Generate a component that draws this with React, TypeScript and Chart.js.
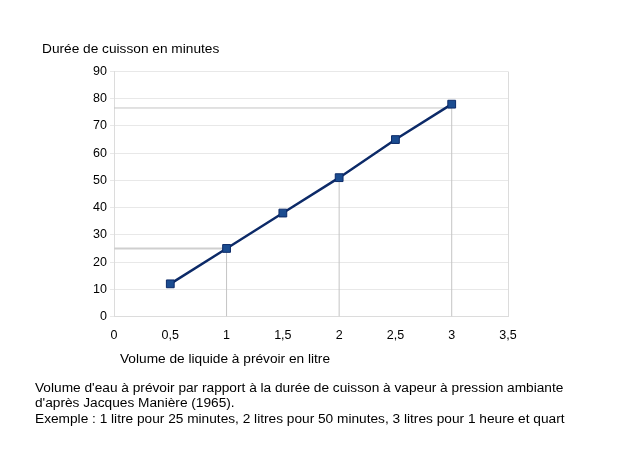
import React, { useEffect, useRef } from "react";
import { Chart, registerables } from "chart.js";

Chart.register(...registerables);

const volumes = [0.5, 1, 1.5, 2, 2.5, 3];
const durations = [12, 25, 38, 51, 65, 78];
const refVolumes = [1, 2, 3];
const refDurations = [25, 51, 78];
const guideQuarter = 76.6;
const yTitle = "Durée de cuisson en minutes";
const xTitle = "Volume de liquide à prévoir en litre";
const captionLines = [
  "Volume d'eau à prévoir par rapport à la durée de cuisson à vapeur à pression ambiante",
  "d'après Jacques Manière (1965).",
  "Exemple : 1 litre pour 25 minutes, 2 litres pour 50 minutes, 3 litres pour 1 heure et quart",
];

const FONT = "'Liberation Sans', Arial, sans-serif";

const textPlugin = {
  id: "texts",
  afterDraw(chart: any) {
    const ctx = chart.ctx;
    ctx.save();
    ctx.fillStyle = "#000";
    ctx.textBaseline = "middle";
    ctx.textAlign = "left";
    ctx.font = `13.7px ${FONT}`;
    ctx.fillText(yTitle, 42, 49);
    ctx.fillText(xTitle, 120, 359);
    const ys = [388, 403, 419];
    captionLines.forEach((l, i) => ctx.fillText(l, 35, ys[i]));
    ctx.restore();
  },
};

export default function App() {
  const ref = useRef<HTMLCanvasElement>(null);
  useEffect(() => {
    if (!ref.current) return;
    const guideColor = "#c4c4c4";
    const datasets: any[] = [
      {
        data: volumes.map((v, i) => ({ x: v, y: durations[i] })),
        borderColor: "#0c2a68",
        borderWidth: 2.5,
        pointStyle: "rect",
        pointRadius: 5.5,
        pointBackgroundColor: "#1b4c90",
        pointBorderColor: "#0c2a68",
        pointBorderWidth: 1,
        tension: 0,
      },
      {
        data: [
          { x: 0, y: refDurations[0] },
          { x: refVolumes[0], y: refDurations[0] },
        ],
        borderColor: "#cfcfcf",
        borderWidth: 2,
        pointRadius: 0,
      },
      {
        data: [
          { x: 0, y: guideQuarter },
          { x: refVolumes[2], y: guideQuarter },
        ],
        borderColor: guideColor,
        borderWidth: 1,
        pointRadius: 0,
      },
      ...refVolumes.map((v, i) => ({
        data: [
          { x: v, y: 0 },
          { x: v, y: refDurations[i] },
        ],
        borderColor: guideColor,
        borderWidth: 1,
        pointRadius: 0,
      })),
    ];
    const chart = new Chart(ref.current, {
      type: "line",
      data: { datasets },
      plugins: [textPlugin],
      options: {
        animation: false,
        responsive: false,
        events: [],
        layout: { padding: { left: 74, top: 71.5, right: 136, bottom: 98.5 } },
        plugins: { legend: { display: false }, tooltip: { enabled: false } },
        scales: {
          x: {
            type: "linear",
            min: 0,
            max: 3.5,
            afterFit: (s: any) => {
              s.height = 40;
            },
            ticks: {
              stepSize: 0.5,
              padding: 12,
              color: "#000",
              font: { family: FONT, size: 12.5 },
              callback: (v: any) => String(v).replace(".", ","),
            },
            grid: {
              drawTicks: false,
              color: (c: any) => (c.tick && c.tick.value === 3.5 ? "#dcdcdc" : "rgba(0,0,0,0)"),
            },
            border: { color: "#dcdcdc" },
          },
          y: {
            min: 0,
            max: 90,
            afterFit: (s: any) => {
              s.width = 40;
            },
            ticks: {
              stepSize: 10,
              padding: 3,
              color: "#000",
              font: { family: FONT, size: 12.5 },
            },
            grid: { color: "#e8e8e8", tickLength: 4 },
            border: { color: "#dcdcdc" },
          },
        },
      },
    });
    return () => chart.destroy();
  }, []);
  return (
    <div style={{ position: "absolute", left: 0, top: 0, width: 644, height: 455, background: "#fff" }}>
      <canvas ref={ref} width={644} height={455} />
    </div>
  );
}
